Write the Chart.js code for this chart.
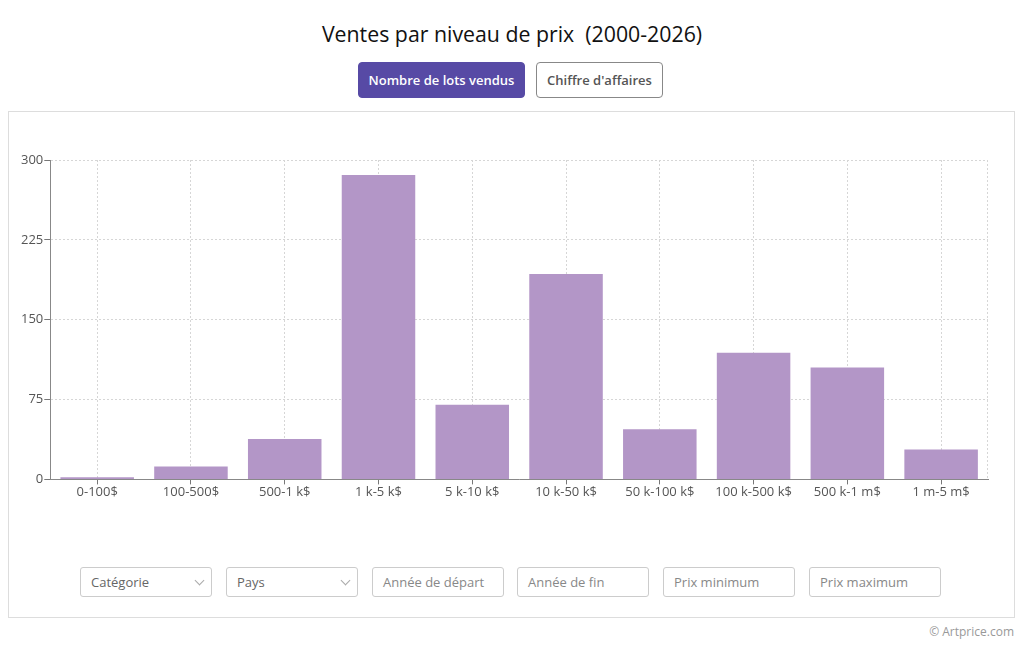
<!DOCTYPE html>
<html>
<head>
<meta charset="utf-8">
<script src="https://cdn.jsdelivr.net/npm/chart.js@4"></script>
<style>
  body { margin: 0; width: 1024px; height: 661px; background: #fff; font-family: "Open Sans", sans-serif; position: relative; overflow: hidden; }
  .title { position: absolute; top: 19px; left: 0; width: 1024px; text-align: center; font-size: 21.3px; color: #111; }
  .btn { position: absolute; top: 62px; height: 36px; box-sizing: border-box; border-radius: 4px; font-size: 13px; font-weight: 600; line-height: 34px; text-align: center; }
  .btn.on { left: 358px; width: 167px; background: #574aa5; color: #fff; border: 1px solid #574aa5; }
  .btn.off { left: 536px; width: 127px; background: #fff; color: #555; border: 1px solid #888; }
  .card { position: absolute; left: 8px; top: 111px; width: 1007px; height: 507px; box-sizing: border-box; border: 1px solid #ddd; }
  #wrap { position: absolute; left: 12px; top: 140px; width: 990px; height: 380px; }
  .filter { position: absolute; top: 567px; height: 30px; width: 132px; box-sizing: border-box; border: 1px solid #ccc; border-radius: 3px; font-size: 13px; color: #888; line-height: 28px; padding-left: 10px; }
  .filter.sel { color: #666; }
  .filter .chev { position: absolute; right: 8px; top: 9px; width: 6px; height: 6px; border-right: 1px solid #aaa; border-bottom: 1px solid #aaa; transform: rotate(45deg); }
  .copy { position: absolute; right: 10px; top: 623px; font-size: 12px; color: #999; }
</style>
</head>
<body>
<div class="title">Ventes par niveau de prix&nbsp; (2000-2026)</div>
<div class="btn on">Nombre de lots vendus</div>
<div class="btn off">Chiffre d'affaires</div>
<div class="card"></div>
<div id="wrap"><canvas id="chart"></canvas></div>
<div class="filter sel" style="left:80px">Catégorie<span class="chev"></span></div>
<div class="filter sel" style="left:226px">Pays<span class="chev"></span></div>
<div class="filter" style="left:372px">Année de départ</div>
<div class="filter" style="left:517px">Année de fin</div>
<div class="filter" style="left:663px">Prix minimum</div>
<div class="filter" style="left:809px">Prix maximum</div>
<div class="copy">© Artprice.com</div>
<script>
const priceLevels = ["0-100$", "100-500$", "500-1 k$", "1 k-5 k$", "5 k-10 k$", "10 k-50 k$", "50 k-100 k$", "100 k-500 k$", "500 k-1 m$", "1 m-5 m$"];
const lotsSold = [2, 12, 38, 286, 70, 193, 47, 119, 105, 28];
const yTicks = [0, 75, 150, 225, 300];

// dashed line on the right edge of the plot
const rightEdge = {
  id: "rightEdge",
  afterDraw(chart) {
    const a = chart.chartArea;
    const ctx = chart.ctx;
    ctx.save();
    ctx.strokeStyle = "#d6d6d6";
    ctx.setLineDash([2, 2]);
    ctx.beginPath();
    ctx.moveTo(a.right - 0.5, a.top);
    ctx.lineTo(a.right - 0.5, a.bottom);
    ctx.stroke();
    ctx.restore();
  }
};

new Chart(document.getElementById("chart"), {
  type: "bar",
  data: {
    labels: priceLevels,
    datasets: [{
      data: lotsSold,
      backgroundColor: "#b396c7",
      barPercentage: 0.98,
      categoryPercentage: 0.8
    }]
  },
  options: {
    responsive: true,
    maintainAspectRatio: false,
    animation: false,
    layout: { padding: { left: 8, right: 14, top: 20, bottom: 20 } },
    plugins: { legend: { display: false }, tooltip: { enabled: false } },
    scales: {
      x: {
        grid: { offset: false, color: "#d6d6d6", tickColor: "#777", tickLength: 5 },
        border: { color: "#888", dash: [2, 2] },
        ticks: { color: "#555", font: { family: "Open Sans", size: 13 }, padding: 0, maxRotation: 0 }
      },
      y: {
        min: 0,
        max: 300,
        afterBuildTicks(scale) { scale.ticks = yTicks.map(v => ({ value: v })); },
        grid: { color: "#d6d6d6", tickColor: "#777", tickLength: 6 },
        border: { color: "#888", dash: [2, 2] },
        ticks: { color: "#555", font: { family: "Open Sans", size: 13 }, padding: 1 }
      }
    }
  },
  plugins: [rightEdge]
});
</script>
</body>
</html>
